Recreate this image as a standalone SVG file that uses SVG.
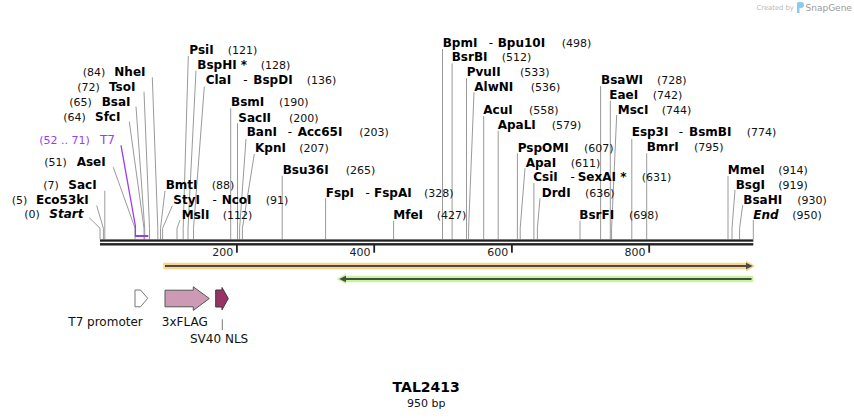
<svg xmlns="http://www.w3.org/2000/svg" width="854" height="418" viewBox="0 0 854 418">
<style>
text{font-family:"DejaVu Sans",Verdana,sans-serif;fill:#000}
.n{font-size:12px;font-weight:bold}
.i{font-size:12px;font-weight:bold;font-style:italic}
.p{font-size:11px;fill:#111}
.d{font-size:12px}
.t7{fill:#9a3cf0}
.cut{fill:none;stroke:#9a9a9a;stroke-width:1}
.tk{font-size:11px;text-anchor:end;fill:#222}
.f{font-size:12px;fill:#111}
.title{font-size:14px;font-weight:bold;text-anchor:middle}
</style>
<rect width="854" height="418" fill="#fff"/>

<g id="logo">
<text x="756.5" y="10" style="font-size:6.8px;fill:#b8b8b8">Created by</text>
<path d="M797,13 L797,3.5 Q797,2 798.5,2 L801,2 Q804,2 804,5 Q804,8 801,8 L799.5,8 L799.5,13 Z" fill="#86cdee"/>
<text x="805.5" y="11" style="font-size:9px;fill:#9a9a9a">SnapGene</text>
</g>

<g id="connectors">
<polyline class="cut" points="89.3,217.7 100,228.3 100,239.3"/>
<polyline class="cut" points="96.7,205.7 103.4,228.3 103.4,239.3"/>
<polyline class="cut" points="104.8,190.7 104.8,239.3"/>
<polyline class="cut" points="113.3,167.3 135.1,228.3 135.1,239.3"/>
<polyline class="cut" points="129.3,121.7 144,228.3 144,239.3"/>
<polyline class="cut" points="136,106.7 144.7,228.3 144.7,239.3"/>
<polyline class="cut" points="144,91.7 149.5,228.3 149.5,239.3"/>
<polyline class="cut" points="152.3,77.3 157.8,228.3 157.8,239.3"/>
<polyline class="cut" points="165,190.7 160.5,228.3 160.5,239.3"/>
<polyline class="cut" points="172.3,205.7 162.6,228.3 162.6,239.3"/>
<polyline class="cut" points="180,220 177,228.3 177,239.3"/>
<polyline class="cut" points="188.3,56 183.2,228.3 183.2,239.3"/>
<polyline class="cut" points="196,70.7 188,228.3 188,239.3"/>
<polyline class="cut" points="204.3,86.7 193.5,228.3 193.5,239.3"/>
<polyline class="cut" points="230.7,108.3 230.7,239.3"/>
<polyline class="cut" points="237.5,123.3 237.5,239.3"/>
<polyline class="cut" points="246,139 239.6,228.3 239.6,239.3"/>
<polyline class="cut" points="254.3,154 242.4,228.3 242.4,239.3"/>
<polyline class="cut" points="282.2,175.7 282.2,239.3"/>
<polyline class="cut" points="325.6,198.3 325.6,239.3"/>
<polyline class="cut" points="393.6,220.7 393.6,239.3"/>
<polyline class="cut" points="442.5,49 442.5,239.3"/>
<polyline class="cut" points="452.1,63.3 452.1,239.3"/>
<polyline class="cut" points="466.5,78.3 466.5,239.3"/>
<polyline class="cut" points="474,92.3 468.6,228.3 468.6,239.3"/>
<polyline class="cut" points="483.7,116 483.7,239.3"/>
<polyline class="cut" points="498.2,131 498.2,239.3"/>
<polyline class="cut" points="517.4,153.3 517.4,239.3"/>
<polyline class="cut" points="525,168.3 520.2,228.3 520.2,239.3"/>
<polyline class="cut" points="533.9,183 533.9,239.3"/>
<polyline class="cut" points="540,198.3 537.4,228.3 537.4,239.3"/>
<polyline class="cut" points="580,220.7 580,239.3"/>
<polyline class="cut" points="600.6,86 600.6,239.3"/>
<polyline class="cut" points="610.3,100.7 610.3,239.3"/>
<polyline class="cut" points="616.7,115 611.6,228.3 611.6,239.3"/>
<polyline class="cut" points="631.8,139 631.8,239.3"/>
<polyline class="cut" points="646.7,153.3 646.7,239.3"/>
<polyline class="cut" points="728,176 728,239.3"/>
<polyline class="cut" points="735,190 732,228.3 732,239.3"/>
<polyline class="cut" points="742.7,205 739.6,228.3 739.6,239.3"/>
<polyline class="cut" points="753.3,220 753.3,239.3"/>
<polyline fill="none" stroke="#9a3cf0" stroke-width="1.3" points="121,145.3 135.4,226 135.4,236"/>
<line x1="134.8" y1="236" x2="148.3" y2="236" stroke="#9a3cf0" stroke-width="2"/>
<line x1="222.3" y1="319.3" x2="222.3" y2="330" stroke="#777" stroke-width="1"/>
</g>

<g id="backbone">
<rect x="100" y="239.4" width="653.3" height="2.3" fill="#222"/>
<rect x="100" y="243.1" width="653.3" height="2.4" fill="#222"/>
<rect x="236" y="245" width="1.8" height="7.7" fill="#222"/>
<rect x="373.3" y="245" width="1.8" height="7.7" fill="#222"/>
<rect x="511" y="245" width="1.8" height="7.7" fill="#222"/>
<rect x="648.3" y="245" width="1.8" height="7.7" fill="#222"/>
<text class="tk" x="233.3" y="256">200</text>
<text class="tk" x="370.6" y="256">400</text>
<text class="tk" x="508.3" y="256">600</text>
<text class="tk" x="645.4" y="256">800</text>
</g>

<g id="site-start"><text class="p" x="24.3" y="218.4">(0)</text><text class="i" x="49.3" y="218.4">Start</text></g>
<g id="site-eco53ki"><text class="p" x="11.7" y="203.7">(5)</text><text class="n" x="36" y="203.7">Eco53kI</text></g>
<g id="site-saci"><text class="p" x="43.3" y="189.4">(7)</text><text class="n" x="68.3" y="189.4">SacI</text></g>
<g id="site-asei"><text class="p" x="44.3" y="166.1">(51)</text><text class="n" x="76.7" y="166.1">AseI</text></g>
<g id="primer-t7"><text class="p t7" x="39.3" y="144.4">(52 .. 71)</text><text class="d t7" x="100" y="144.4">T7</text></g>
<g id="site-sfci"><text class="p" x="63.3" y="121.1">(64)</text><text class="n" x="95" y="121.1">SfcI</text></g>
<g id="site-bsai"><text class="p" x="69.3" y="106.1">(65)</text><text class="n" x="101.7" y="106.1">BsaI</text></g>
<g id="site-tsoi"><text class="p" x="77.3" y="91.1">(72)</text><text class="n" x="109" y="91.1">TsoI</text></g>
<g id="site-nhei"><text class="p" x="82.7" y="76.1">(84)</text><text class="n" x="114.3" y="76.1">NheI</text></g>

<g id="site-bmti"><text class="n" x="165.7" y="189">BmtI</text><text class="p" x="211.7" y="189">(88)</text></g>
<g id="site-styi-ncoi"><text class="n" x="173.3" y="204.4">StyI</text><text class="d" x="212.5" y="204.4">-</text><text class="n" x="221.7" y="204.4">NcoI</text><text class="p" x="265.7" y="204.4">(91)</text></g>
<g id="site-msli"><text class="n" x="181.7" y="218.7">MslI</text><text class="p" x="222.7" y="218.7">(112)</text></g>
<g id="site-psii"><text class="n" x="189.3" y="54.4">PsiI</text><text class="p" x="227.7" y="54.4">(121)</text></g>
<g id="site-bsphi"><text class="n" x="197.3" y="69.4">BspHI *</text><text class="p" x="260.7" y="69.4">(128)</text></g>
<g id="site-clai-bspdi"><text class="n" x="205.7" y="84.4">ClaI</text><text class="d" x="243.2" y="84.4">-</text><text class="n" x="253.3" y="84.4">BspDI</text><text class="p" x="306.7" y="84.4">(136)</text></g>
<g id="site-bsmi"><text class="n" x="231" y="106.1">BsmI</text><text class="p" x="279" y="106.1">(190)</text></g>
<g id="site-sacii"><text class="n" x="238.3" y="121.7">SacII</text><text class="p" x="289" y="121.7">(200)</text></g>
<g id="site-bani-acc65i"><text class="n" x="246.7" y="136.1">BanI</text><text class="d" x="287.8" y="136.1">-</text><text class="n" x="297.7" y="136.1">Acc65I</text><text class="p" x="359.3" y="136.1">(203)</text></g>
<g id="site-kpni"><text class="n" x="255" y="151.7">KpnI</text><text class="p" x="299.3" y="151.7">(207)</text></g>
<g id="site-bsu36i"><text class="n" x="282.7" y="174.4">Bsu36I</text><text class="p" x="345.7" y="174.4">(265)</text></g>
<g id="site-fspi-fspai"><text class="n" x="325.7" y="197.1">FspI</text><text class="d" x="365.5" y="197.1">-</text><text class="n" x="374" y="197.1">FspAI</text><text class="p" x="424" y="197.1">(328)</text></g>
<g id="site-mfei"><text class="n" x="393.3" y="219.4">MfeI</text><text class="p" x="436.7" y="219.4">(427)</text></g>
<g id="site-bpmi-bpu10i"><text class="n" x="442.7" y="47.1">BpmI</text><text class="d" x="488.8" y="47.1">-</text><text class="n" x="497.7" y="47.1">Bpu10I</text><text class="p" x="561.7" y="47.1">(498)</text></g>
<g id="site-bsrbi"><text class="n" x="451.7" y="61.1">BsrBI</text><text class="p" x="501.7" y="61.1">(512)</text></g>
<g id="site-pvuii"><text class="n" x="466.7" y="76.1">PvuII</text><text class="p" x="520" y="76.1">(533)</text></g>
<g id="site-alwni"><text class="n" x="474.3" y="91.1">AlwNI</text><text class="p" x="530.7" y="91.1">(536)</text></g>
<g id="site-acui"><text class="n" x="483.3" y="114.4">AcuI</text><text class="p" x="529" y="114.4">(558)</text></g>
<g id="site-apali"><text class="n" x="497.7" y="129.4">ApaLI</text><text class="p" x="551.7" y="129.4">(579)</text></g>
<g id="site-pspomi"><text class="n" x="517.7" y="151.7">PspOMI</text><text class="p" x="584" y="151.7">(607)</text></g>
<g id="site-apai"><text class="n" x="525.7" y="166.7">ApaI</text><text class="p" x="570.7" y="166.7">(611)</text></g>
<g id="site-csii-sexai"><text class="n" x="533.3" y="181.1">CsiI</text><text class="d" x="570.5" y="181.1">-</text><text class="n" x="577.7" y="181.1">SexAI *</text><text class="p" x="641.7" y="181.1">(631)</text></g>
<g id="site-drdi"><text class="n" x="541.7" y="196.7">DrdI</text><text class="p" x="585" y="196.7">(636)</text></g>
<g id="site-bsrfi"><text class="n" x="579.3" y="218.7">BsrFI</text><text class="p" x="629" y="218.7">(698)</text></g>
<g id="site-bsawi"><text class="n" x="601" y="83.7">BsaWI</text><text class="p" x="657" y="83.7">(728)</text></g>
<g id="site-eaei"><text class="n" x="609.3" y="99.4">EaeI</text><text class="p" x="652.7" y="99.4">(742)</text></g>
<g id="site-msci"><text class="n" x="617.7" y="114.4">MscI</text><text class="p" x="661.7" y="114.4">(744)</text></g>
<g id="site-esp3i-bsmbi"><text class="n" x="631.7" y="136.4">Esp3I</text><text class="d" x="678.8" y="136.4">-</text><text class="n" x="689" y="136.4">BsmBI</text><text class="p" x="746.7" y="136.4">(774)</text></g>
<g id="site-bmri"><text class="n" x="646.7" y="151.1">BmrI</text><text class="p" x="694" y="151.1">(795)</text></g>
<g id="site-mmei"><text class="n" x="727.7" y="174.4">MmeI</text><text class="p" x="778.3" y="174.4">(914)</text></g>
<g id="site-bsgi"><text class="n" x="735.7" y="189.4">BsgI</text><text class="p" x="778.3" y="189.4">(919)</text></g>
<g id="site-bsahi"><text class="n" x="743.3" y="204.4">BsaHI</text><text class="p" x="797.3" y="204.4">(930)</text></g>
<g id="site-end"><text class="i" x="753.3" y="219.4">End</text><text class="p" x="792.3" y="219.4">(950)</text></g>

<g id="orange-feature">
<path d="M163.3,262.7 H746 V260.6 L755,266 L746,271.4 V269.3 H163.3 Z" fill="#fbd38c"/>
<line x1="165" y1="266" x2="748" y2="266" stroke="#4a4a4a" stroke-width="1.8"/>
<path d="M746,262.8 L752.8,266 L746,269.2 Z" fill="#4a4a4a"/>
</g>
<g id="green-feature">
<path d="M753.3,275.7 H346 V273.8 L336.5,279 L346,284.2 V282.3 H753.3 Z" fill="#c8f59c"/>
<line x1="344" y1="279" x2="751.5" y2="279" stroke="#4a4a4a" stroke-width="1.8"/>
<path d="M346,275.8 L339.2,279 L346,282.2 Z" fill="#4a4a4a"/>
</g>

<g id="feature-t7-promoter">
<path d="M135,290 H140.5 L147.7,298.3 L140.5,306.8 H135 Z" fill="#fff" stroke="#777" stroke-width="1"/>
<text class="f" x="68.3" y="325.8">T7 promoter</text>
</g>
<g id="feature-3xflag">
<path d="M165,290.2 H193.3 V286.8 L209.3,298.5 L193.3,310.4 V306.8 H165 Z" fill="#cc9ab5" stroke="#555" stroke-width="1"/>
<text class="f" x="161.8" y="325.8">3xFLAG</text>
</g>
<g id="feature-sv40-nls">
<path d="M215.7,290 H222 V287.5 L228.3,298.5 L222,309.8 V307 H215.7 Z" fill="#993366" stroke="#3a3a3a" stroke-width="1"/>
<text class="f" x="190" y="342.5">SV40 NLS</text>
</g>

<g id="title">
<text class="title" x="426.2" y="391.7">TAL2413</text>
<text x="426.2" y="406.5" style="font-size:11px;text-anchor:middle;fill:#111">950 bp</text>
</g>
</svg>
